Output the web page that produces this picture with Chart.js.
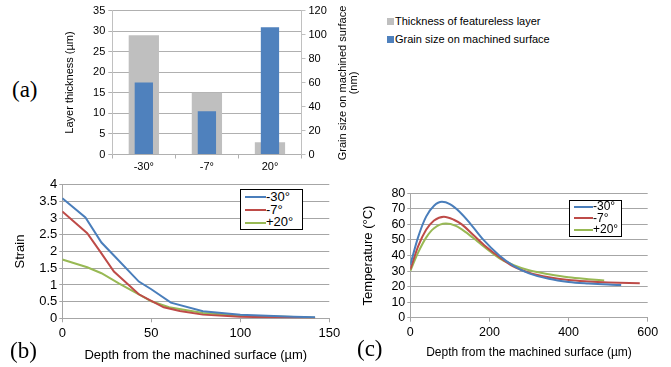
<!DOCTYPE html>
<html>
<head>
<meta charset="utf-8">
<script src="https://cdn.jsdelivr.net/npm/chart.js@4"></script>
<style>
  body { margin: 0; background: #fff; font-family: "Liberation Sans", Arial, sans-serif; }
  #wrap { position: relative; width: 671px; height: 367px; overflow: hidden; }
  canvas { position: absolute; }
  .tag { position: absolute; font-family: "Liberation Serif", "Times New Roman", serif; font-size: 23px; color: #000; }
  .lgbox { position: absolute; border: 1.3px solid #000; background: #fff; box-sizing: border-box; }
  .lgrow { position: relative; color: #000; white-space: nowrap; }
  .lgrow i { position: absolute; left: 0; height: 2px; }
  .sq { position: absolute; color: #000; font-size: 11px; white-space: nowrap; }
  .sq i { display: inline-block; width: 7px; height: 7px; margin-right: 1px; vertical-align: -0px; }
</style>
</head>
<body>
<div id="wrap">
  <canvas id="chartA" width="320" height="175" style="left:50px;top:0"></canvas>
  <canvas id="chartB" width="345" height="192" style="left:0;top:175px"></canvas>
  <canvas id="chartC" width="326" height="192" style="left:345px;top:175px"></canvas>

  <div class="tag" style="left:12px;top:77px">(a)</div>
  <div class="tag" style="left:10px;top:338px">(b)</div>
  <div class="tag" style="left:357px;top:336px">(c)</div>

  <!-- right axis title of (a), reads bottom to top -->
  <div style="position:absolute;left:268px;top:72px;width:160px;height:22px;text-align:center;font-size:11px;line-height:10.5px;transform:rotate(-90deg);color:#000">Grain size on machined surface<br>(nm)</div>

  <div class="sq" style="left:387px;top:15px"><i style="background:#bfbfbf"></i>Thickness of featureless layer</div>
  <div class="sq" style="left:387px;top:33px"><i style="background:#4f81bd"></i>Grain size on machined surface</div>

  <div id="legB" class="lgbox" style="left:240px;top:189px;width:63px;height:41px;font-size:13px;padding-top:1px"></div>
  <div id="legC" class="lgbox" style="left:569px;top:200px;width:53px;height:37px;font-size:12px;padding-top:0px"></div>
</div>
<script>
// (a) bar data
var angles = ['-30°', '-7°', '20°'];
var layerThickness = [29, 15, 3];      // µm, left axis
var grainSize = [60, 36, 106];         // nm, right axis

// (b) strain vs depth
var strainDepth30 = [0, 13, 22, 29, 43, 50, 61, 79, 100, 130, 142];
var strain30 = [3.6, 3.02, 2.27, 1.88, 1.1, 0.87, 0.47, 0.21, 0.11, 0.05, 0.03];
var strainDepth7 = [0, 14, 21, 29, 43, 50, 57, 66, 79, 100, 130, 142];
var strain7 = [3.2, 2.55, 2.02, 1.4, 0.72, 0.52, 0.33, 0.22, 0.11, 0.05, 0.02, 0.01];
var strainDepth20 = [0, 14, 22, 32, 43, 50, 60, 79, 100, 130, 142];
var strain20 = [1.76, 1.53, 1.35, 1.04, 0.72, 0.51, 0.33, 0.16, 0.08, 0.04, 0.02];

// (c) temperature vs depth
var tempDepth30 = [0, 20, 40, 60, 80, 100, 125, 150, 185, 225, 260, 300, 350, 400, 450, 500, 533];
var temp30 = [34, 52, 65, 72, 74.5, 73, 68, 61, 50, 40, 33.5, 28.5, 25, 23, 22, 21.3, 21];
var tempDepth7 = [0, 20, 40, 60, 85, 110, 130, 160, 190, 225, 260, 300, 350, 400, 450, 500, 580];
var temp7 = [31, 46, 56.5, 62.5, 65, 63, 60, 53, 46, 39, 33, 29, 26, 24.2, 23.3, 22.7, 22.1];
var tempDepth20 = [0, 20, 40, 60, 90, 115, 140, 170, 200, 230, 260, 300, 350, 400, 450, 490];
var temp20 = [30, 42, 51.5, 57.5, 60.5, 59, 55, 49, 43, 37.5, 34, 30.5, 28, 26, 24.8, 24];

var seriesNames = ['-30°', '-7°', '+20°'];
var lineColors = ['#4a7ebb', '#be4b48', '#98b954'];

Chart.defaults.font.family = '"Liberation Sans", Arial, sans-serif';
Chart.defaults.color = '#000';

function pts(xs, ys) {
    return xs.map(function(x, i) { return {x: x, y: ys[i]}; });
}
function fixW(w) { return function(s) { s.width = w; }; }
function fixH(h) { return function(s) { s.height = h; }; }
function plain(v) { return String(Math.round(v * 100) / 100); }

// ---- (a) ----
new Chart(document.getElementById('chartA'), {
    type: 'bar',
    data: {
        labels: angles,
        datasets: [{
            label: 'Thickness of featureless layer',
            data: layerThickness,
            backgroundColor: '#bfbfbf',
            yAxisID: 'y',
            grouped: false,
            order: 2,
            categoryPercentage: 1,
            barPercentage: 0.48
        }, {
            label: 'Grain size on machined surface',
            data: grainSize,
            backgroundColor: '#4f81bd',
            yAxisID: 'y1',
            grouped: false,
            order: 1,
            categoryPercentage: 1,
            barPercentage: 0.29
        }]
    },
    options: {
        responsive: false,
        animation: false,
        layout: { padding: { top: 10.5 } },
        plugins: { legend: { display: false }, tooltip: { enabled: false } },
        scales: {
            x: {
                afterFit: fixH(20.5),
                grid: { offset: true, drawOnChartArea: false, tickLength: 4, color: '#b0b0b0' },
                border: { color: '#b0b0b0' },
                ticks: { font: { size: 11 }, padding: 2 }
            },
            y: {
                position: 'left',
                min: 0, max: 35,
                afterFit: fixW(62.3),
                ticks: { stepSize: 5, autoSkip: false, font: { size: 11 }, padding: 3 },
                grid: { color: '#b0b0b0', tickLength: 4 },
                border: { color: '#c0c0c0' },
                title: { display: true, text: 'Layer thickness (µm)', font: { size: 11 }, padding: { top: 13.4, bottom: 0 } }
            },
            y1: {
                position: 'right',
                min: 0, max: 120,
                afterFit: fixW(68.5),
                ticks: { stepSize: 20, autoSkip: false, font: { size: 11 }, padding: 3 },
                grid: { drawOnChartArea: false, tickLength: 4, color: '#c0c0c0' },
                border: { color: '#c0c0c0' }
            }
        }
    }
});

function lineSets(xsList, ysList) {
    return seriesNames.map(function(name, i) {
        return {
            label: name,
            data: pts(xsList[i], ysList[i]),
            borderColor: lineColors[i],
            backgroundColor: lineColors[i],
            borderWidth: 2,
            pointRadius: 0,
            fill: false
        };
    });
}

// ---- (b) ----
var dsB = lineSets([strainDepth30, strainDepth7, strainDepth20], [strain30, strain7, strain20]);
dsB.forEach(function(d) { d.tension = 0; });
new Chart(document.getElementById('chartB'), {
    type: 'line',
    data: { datasets: dsB },
    options: {
        responsive: false,
        animation: false,
        layout: { padding: { top: 8.3, right: 15.7 } },
        plugins: { legend: { display: false }, tooltip: { enabled: false } },
        scales: {
            x: {
                type: 'linear',
                min: 0, max: 150,
                afterFit: fixH(48.7),
                ticks: { stepSize: 50, autoSkip: false, font: { size: 13 }, padding: 3 },
                grid: { drawOnChartArea: false, tickLength: 4, color: '#a6a6a6' },
                border: { color: '#a6a6a6' },
                title: { display: true, text: 'Depth from the machined surface (µm)', font: { size: 13 }, padding: { top: 0, bottom: 4.2 } }
            },
            y: {
                min: 0, max: 4,
                afterFit: fixW(62.3),
                ticks: { stepSize: 0.5, autoSkip: false, callback: plain, font: { size: 13 }, padding: 2 },
                grid: { color: '#a6a6a6', tickLength: 3 },
                border: { color: '#a6a6a6' },
                title: { display: true, text: 'Strain', font: { size: 13 }, padding: { top: 12.9, bottom: 0 } }
            }
        }
    }
});

// ---- (c) ----
var dsC = lineSets([tempDepth30, tempDepth7, tempDepth20], [temp30, temp7, temp20]);
dsC.forEach(function(d) { d.cubicInterpolationMode = 'monotone'; });
new Chart(document.getElementById('chartC'), {
    type: 'line',
    data: { datasets: dsC },
    options: {
        responsive: false,
        animation: false,
        layout: { padding: { top: 18.3, right: 23.3 } },
        plugins: { legend: { display: false }, tooltip: { enabled: false } },
        scales: {
            x: {
                type: 'linear',
                min: 0, max: 600,
                afterFit: fixH(49.3),
                ticks: { stepSize: 200, autoSkip: false, font: { size: 12.5 }, padding: 3 },
                grid: { drawOnChartArea: false, tickLength: 4, color: '#a6a6a6' },
                border: { color: '#a6a6a6' },
                title: { display: true, text: 'Depth from the machined surface (µm)', font: { size: 12 }, padding: { top: 0, bottom: 6.8 } }
            },
            y: {
                min: 0, max: 80,
                afterFit: fixW(65.3),
                ticks: { stepSize: 10, autoSkip: false, font: { size: 12.5 }, padding: 2 },
                grid: { color: '#a6a6a6', tickLength: 3 },
                border: { color: '#a6a6a6' },
                title: { display: true, text: 'Temperature (°C)', font: { size: 13 }, padding: { top: 15.2, bottom: 0 } }
            }
        }
    }
});

// boxed legends for (b) and (c)
function boxLegend(id, rowH, lineW) {
    var box = document.getElementById(id);
    seriesNames.forEach(function(name, i) {
        var row = document.createElement('div');
        row.className = 'lgrow';
        row.style.height = rowH + 'px';
        row.style.lineHeight = rowH + 'px';
        row.style.paddingLeft = (lineW + 4) + 'px';
        row.innerHTML = '<i style="left:4px;width:' + lineW + 'px;top:' + (rowH / 2 - 1) + 'px;background:' + lineColors[i] + '"></i>' + name;
        box.appendChild(row);
    });
}
boxLegend('legB', 12.7, 21);
boxLegend('legC', 11.6, 19);
</script>
</body>
</html>
